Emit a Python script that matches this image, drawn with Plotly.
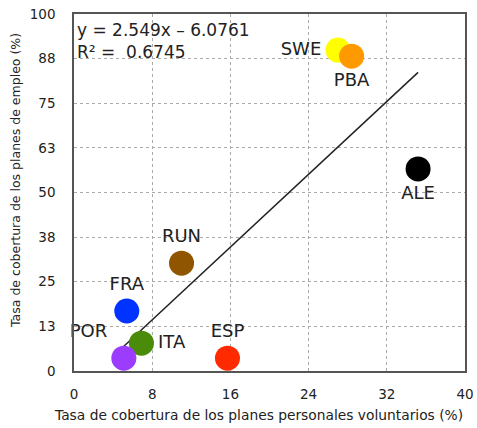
import plotly.graph_objects as go

countries = ["SWE", "PBA", "ALE", "RUN", "FRA", "ITA", "POR", "ESP"]
voluntarios = [27.0, 28.4, 35.2, 11.0, 5.4, 6.9, 5.1, 15.7]
empleo = [89.9, 88.2, 56.6, 30.2, 16.8, 7.8, 3.6, 3.6]
colors = ["#ffff00", "#ff9900", "#000000", "#8f5500", "#0033ff", "#4a8c0a", "#9b3cff", "#ff2a00"]
label_pos = ["middle left", "bottom center", "bottom center", "top center",
             "top center", "middle right", "top left", "top center"]

slope = 2.549
intercept = -6.0761
r2 = 0.6745

x_ticks = [0, 8, 16, 24, 32, 40]
y_tickvals = [0, 12.5, 25, 37.5, 50, 62.5, 75, 87.5, 100]
y_ticktext = ["0", "13", "25", "38", "50", "63", "75", "88", "100"]

x_title = "Tasa de cobertura de los planes personales voluntarios (%)"
y_title = "Tasa de cobertura de los planes de empleo (%)"

FONT = "DejaVu Sans, Liberation Sans, sans-serif"

fig = go.Figure()

xl = [min(voluntarios), max(voluntarios)]
yl = [slope * v + intercept for v in xl]
fig.add_trace(go.Scatter(x=xl, y=yl, mode="lines",
                         line=dict(color="#222222", width=1.5), showlegend=False,
                         hoverinfo="skip"))

for c, xv, yv, col, pos in zip(countries, voluntarios, empleo, colors, label_pos):
    fig.add_trace(go.Scatter(
        x=[xv], y=[yv], mode="markers+text", text=[c], textposition=pos,
        marker=dict(size=25, color=col, line=dict(width=0)),
        textfont=dict(family=FONT, size=18, color="#222222"),
        showlegend=False, cliponaxis=False))

fig.add_annotation(xref="paper", yref="paper", x=0.0, y=1.0, xanchor="left", yanchor="top",
                   xshift=1, yshift=-4,
                   text=f"y = {slope}x – {abs(intercept)}<br>R² =  {r2}", showarrow=False,
                   align="left",
                   font=dict(family=FONT, size=17, color="#222222"))

fig.add_annotation(xref="paper", yref="paper", x=0.473, y=-0.123, xanchor="center",
                   yanchor="middle", text=x_title, showarrow=False,
                   font=dict(family=FONT, size=13.8, color="#222222"))
fig.add_annotation(xref="paper", yref="paper", x=-0.151, y=0.535, xanchor="center",
                   yanchor="middle", text=y_title, showarrow=False, textangle=-90,
                   font=dict(family=FONT, size=12.5, color="#222222"))

fig.update_layout(
    width=477, height=428,
    margin=dict(l=74, r=12, t=14, b=57),
    paper_bgcolor="white", plot_bgcolor="white",
    font=dict(family=FONT, size=12, color="#222222"),
    xaxis=dict(range=[0, 40], tickvals=x_ticks, showgrid=True, gridcolor="#aaaaaa",
               griddash="dot", gridwidth=1, zeroline=False, showline=True, linecolor="#555555",
               linewidth=1.5, mirror=True, ticks="", tickfont=dict(size=13.5),
               ticklabelstandoff=10, automargin=False),
    yaxis=dict(range=[0, 100], tickvals=y_tickvals, ticktext=y_ticktext, showgrid=True,
               gridcolor="#aaaaaa", griddash="dot", gridwidth=1, zeroline=False,
               showline=True, linecolor="#555555", linewidth=1.5, mirror=True, ticks="",
               tickfont=dict(size=13.5), ticklabelstandoff=14, automargin=False),
)

fig.write_html("out.html")
